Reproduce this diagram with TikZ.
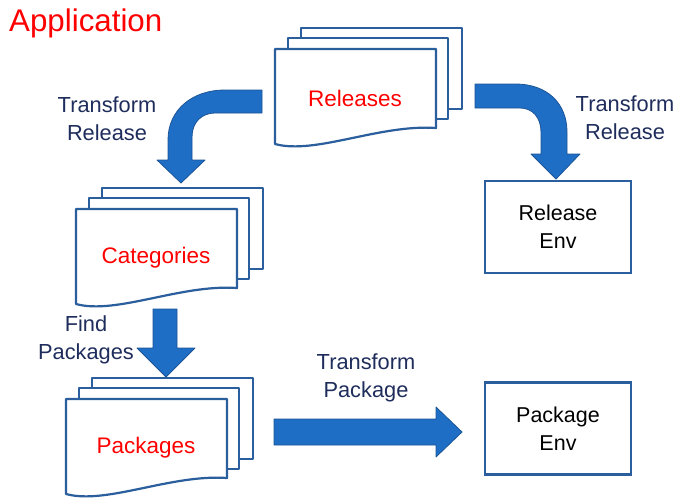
\documentclass[tikz,border=0pt]{standalone}
\usepackage{fontspec}
\setmainfont{Liberation Sans}
\definecolor{sheetblue}{HTML}{2A5E9C}
\definecolor{arrowfill}{HTML}{1F6EC6}
\definecolor{arrowline}{HTML}{1C5496}
\definecolor{labelnavy}{HTML}{1F2D5C}
\definecolor{appred}{HTML}{FF0000}
\tikzset{
  sheet/.style={draw=sheetblue, line width=2.2pt, fill=white, line join=round},
  bigarrow/.style={fill=arrowfill, draw=arrowline, line width=0.8pt, line join=round},
  envbox/.style={draw=sheetblue, line width=2.2pt, fill=white, minimum width=146pt,
    minimum height=92pt, align=center, font=\fontsize{21.5}{28}\selectfont, text=black, inner sep=0pt},
  lbl/.style={align=center, text=labelnavy, font=\fontsize{21.8}{28}\selectfont, inner sep=0pt},
  doctext/.style={text=appred, font=\fontsize{22.5}{28}\selectfont, inner sep=0pt},
}
\newcommand\docstack[4]{%
  \draw[sheet] (#1+26,#2-21) rectangle (#1+187,#2+60);
  \draw[sheet] (#1+13,#2-11) rectangle (#1+173,#2+70);
  \draw[sheet] (#1,#2) -- (#1+161,#2) -- (#1+161,#2+79)
     .. controls (#1+105,#2+75) and (#1+40,#2+106) .. (#1,#2+95) -- cycle;
  \node[doctext] (#3) at (#1+80,#2+49) {#4};
}
\begin{document}
\begin{tikzpicture}[x=1pt,y=-1pt]
\useasboundingbox (0,0) rectangle (678,498);
\fill[white] (0,0) rectangle (678,498);

\node[anchor=west, text=appred, font=\fontsize{31.3}{36}\selectfont, inner sep=0pt] (app) at (9,23) {Application};

\docstack{275}{49}{releases}{Releases}
\docstack{76}{209}{categories}{Categories}
\docstack{66}{399}{packages}{Packages}

\node[envbox] (relenv) at (558,227) {Release\\Env};
\node[envbox] (pkgenv) at (558,428.5) {Package\\Env};

% bent arrow left (Releases -> Categories)
\draw[bigarrow] (262,90) -- (225,90) .. controls (192,90) and (168,110) .. (168,140)
  -- (168,160) -- (157,160) -- (181,183) -- (205,160) -- (192,160) -- (192,137)
  .. controls (192,122) and (202,113) .. (215,113) -- (262,113) -- cycle;
% bent arrow right (Releases -> Release Env)
\draw[bigarrow] (475,84) -- (515,84) .. controls (548,84) and (567,104) .. (567,132)
  -- (567,154) -- (580,154) -- (556,179) -- (531,154) -- (541,154) -- (541,132)
  .. controls (541,117) and (532,108) .. (520,108) -- (475,108) -- cycle;
% down arrow (Categories -> Packages)
\draw[bigarrow] (153,309) -- (177,309) -- (177,348) -- (195,348) -- (166,377)
  -- (137,348) -- (153,348) -- cycle;
% right arrow (Packages -> Package Env)
\draw[bigarrow] (274,419) -- (436,419) -- (436,407) -- (462,432) -- (436,457)
  -- (436,445) -- (274,445) -- cycle;

\node[lbl] (l1) at (107,119) {Transform\\Release};
\node[lbl] (l2) at (625,118) {Transform\\Release};
\node[lbl] (l3) at (86,340) {Find\\Packages};
\node[lbl] (l4) at (366,378) {Transform\\Package};
\end{tikzpicture}
\end{document}
